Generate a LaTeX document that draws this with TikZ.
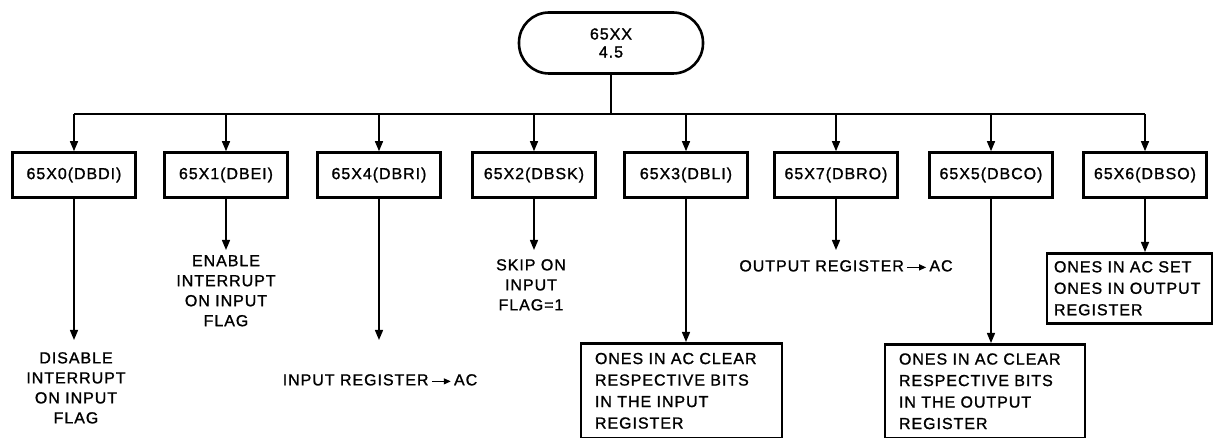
\documentclass[tikz,border=0pt]{standalone}
\usepackage{fontspec}
\setmainfont{Liberation Sans}[LetterSpace=6, FakeBold=1.2]
\usepackage{tikz}
\usetikzlibrary{arrows.meta, positioning, calc}
\tikzset{every node/.style={font=\fontsize{16}{20}\selectfont}}
\tikzset{
  opbox/.style={draw, line width=2.6pt, minimum width=123pt, minimum height=45pt, inner sep=0pt},
  resbox/.style={draw, line width=2.6pt, align=left, inner ysep=0pt, font=\fontsize{16}{21.5}\selectfont},
  restext/.style={align=center, inner sep=0pt},
  flow/.style={line width=1.4pt, -{Triangle[length=10pt, width=8pt]}},
}
\newcommand{\toreg}{\,\tikz[baseline=-4pt]\draw[line width=1.2pt, -{Triangle[length=7pt, width=6pt]}] (0pt,0pt) -- (19pt,0pt);\,}

\begin{document}
\begin{tikzpicture}[x=1pt, y=-1pt]
    \useasboundingbox (0,0) rectangle (1216,438);
    \node[draw, line width=2.6pt, rounded corners=30pt, minimum width=184pt, minimum height=61pt, align=center, font=\fontsize{16}{18}\selectfont] (top) at (611,43) {65XX\\4.5};
    \coordinate (bus) at (611,114);
    \node[opbox] (dbdi) at (74,175) {65X0(DBDI)};
    \node[opbox] (dbei) at (226,175) {65X1(DBEI)};
    \node[opbox] (dbri) at (379,175) {65X4(DBRI)};
    \node[opbox] (dbsk) at (534,175) {65X2(DBSK)};
    \node[opbox] (dbli) at (686,175) {65X3(DBLI)};
    \node[opbox] (dbro) at (836,175) {65X7(DBRO)};
    \node[opbox] (dbco) at (991,175) {65X5(DBCO)};
    \node[opbox] (dbso) at (1145,175) {65X6(DBSO)};
    \draw[line width=1.4pt] (top) -- (bus);
    \draw[line width=1.4pt] (dbdi.north |- bus) -- (dbso.north |- bus);
    \foreach \op in {dbdi,dbei,dbri,dbsk,dbli,dbro,dbco,dbso}
      \draw[flow] (\op.north |- bus) -- (\op);
    \node[restext, anchor=north] (dbdiout) at (76,352) {DISABLE\\INTERRUPT\\ON INPUT\\FLAG};
    \node[restext, anchor=north] (dbeiout) at (226,255) {ENABLE\\INTERRUPT\\ON INPUT\\FLAG};
    \node[restext, anchor=north] (dbriout) at (380,374) {INPUT REGISTER\toreg AC};
    \node[restext, anchor=north] (dbskout) at (531,259) {SKIP ON\\INPUT\\FLAG=1};
    \node[restext, anchor=north] (dbroout) at (846,260) {OUTPUT REGISTER\toreg AC};
    \node[resbox, anchor=north, text width=173pt, inner xsep=14pt, minimum height=95pt] (dbliout) at (681.5,342) {ONES IN AC CLEAR\\RESPECTIVE BITS\\IN THE INPUT\\REGISTER};
    \node[resbox, anchor=north, text width=172pt, inner xsep=14pt, minimum height=94pt] (dbcoout) at (985,343) {ONES IN AC CLEAR\\RESPECTIVE BITS\\IN THE OUTPUT\\REGISTER};
    \node[resbox, anchor=north, text width=151pt, inner xsep=7pt, minimum height=70pt] (dbsoout) at (1129.5,252) {ONES IN AC SET\\ONES IN OUTPUT\\REGISTER};
    \draw[flow, shorten >=12pt] (dbdi) -- (dbdi |- dbdiout.north);
    \draw[flow, shorten >=5pt] (dbei) -- (dbei |- dbeiout.north);
    \draw[flow, shorten >=34pt] (dbri) -- (dbri |- dbriout.north);
    \draw[flow, shorten >=9pt] (dbsk) -- (dbsk |- dbskout.north);
    \draw[flow, shorten >=10pt] (dbro) -- (dbro |- dbroout.north);
    \draw[flow] (dbli) -- (dbli |- dbliout.north);
    \draw[flow] (dbco) -- (dbco |- dbcoout.north);
    \draw[flow] (dbso) -- (dbso |- dbsoout.north);
  \end{tikzpicture}
\end{document}
